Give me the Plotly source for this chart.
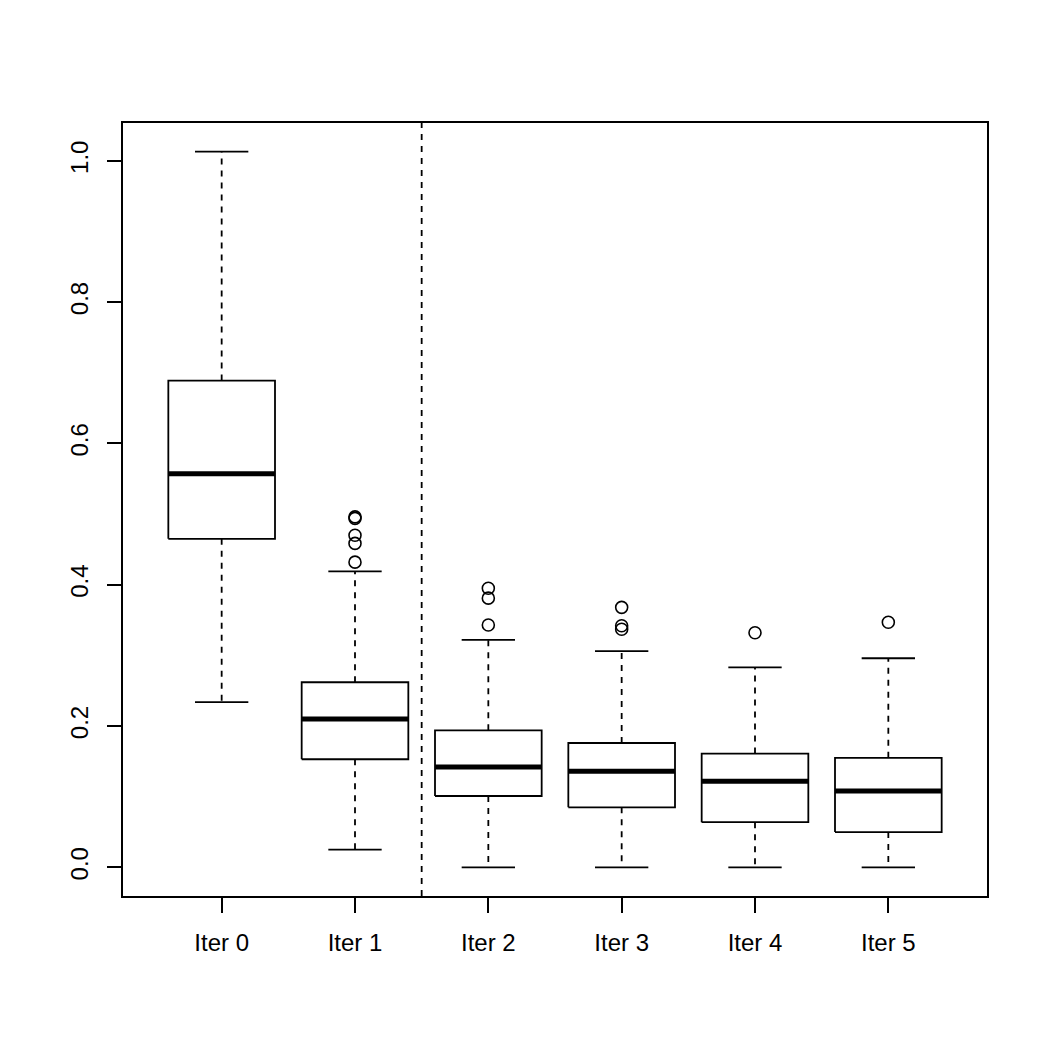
import plotly.graph_objects as go

categories = ["Iter 0", "Iter 1", "Iter 2", "Iter 3", "Iter 4", "Iter 5"]
lower_whisker = [0.234, 0.025, 0.000, 0.000, 0.000, 0.000]
q1 = [0.465, 0.153, 0.101, 0.085, 0.064, 0.050]
median = [0.557, 0.210, 0.142, 0.136, 0.122, 0.108]
q3 = [0.689, 0.262, 0.194, 0.176, 0.161, 0.155]
upper_whisker = [1.013, 0.419, 0.322, 0.306, 0.283, 0.296]
outliers = [
    [],
    [0.432, 0.4585, 0.470, 0.494, 0.496],
    [0.343, 0.381, 0.395],
    [0.337, 0.342, 0.368],
    [0.332],
    [0.347],
]
y_ticks = [0.0, 0.2, 0.4, 0.6, 0.8, 1.0]
separator_x = 2.5

BOX_HALF = 0.4
CAP_HALF = 0.2
LW = 1.8

positions = list(range(1, len(categories) + 1))

box_x, box_y = [], []
wh_x, wh_y = [], []
cap_x, cap_y = [], []
med_x, med_y = [], []
out_x, out_y = [], []
for i, p in enumerate(positions):
    box_x += [p - BOX_HALF, p + BOX_HALF, p + BOX_HALF, p - BOX_HALF, p - BOX_HALF, None]
    box_y += [q1[i], q1[i], q3[i], q3[i], q1[i], None]
    wh_x += [p, p, None, p, p, None]
    wh_y += [q3[i], upper_whisker[i], None, q1[i], lower_whisker[i], None]
    cap_x += [p - CAP_HALF, p + CAP_HALF, None, p - CAP_HALF, p + CAP_HALF, None]
    cap_y += [upper_whisker[i], upper_whisker[i], None, lower_whisker[i], lower_whisker[i], None]
    med_x += [p - BOX_HALF, p + BOX_HALF, None]
    med_y += [median[i], median[i], None]
    for v in outliers[i]:
        out_x.append(p)
        out_y.append(v)

fig = go.Figure()
fig.add_trace(go.Scatter(x=wh_x, y=wh_y, mode="lines",
                         line=dict(color="black", width=LW, dash="6px,6px"),
                         hoverinfo="skip"))
fig.add_trace(go.Scatter(x=cap_x, y=cap_y, mode="lines",
                         line=dict(color="black", width=LW), hoverinfo="skip"))
fig.add_trace(go.Scatter(x=box_x, y=box_y, mode="lines", fill="toself",
                         fillcolor="white",
                         line=dict(color="black", width=LW), hoverinfo="skip"))
fig.add_trace(go.Scatter(x=med_x, y=med_y, mode="lines",
                         line=dict(color="black", width=5), hoverinfo="skip"))
fig.add_trace(go.Scatter(x=out_x, y=out_y, mode="markers",
                         marker=dict(symbol="circle-open", size=12,
                                     color="black", line=dict(width=1.6)),
                         hoverinfo="skip"))

fig.add_shape(type="line", x0=separator_x, x1=separator_x, y0=0, y1=1,
              xref="x", yref="paper",
              line=dict(color="black", width=LW, dash="6px,6px"))

ymin_d = min(lower_whisker)
ymax_d = max(upper_whisker + [v for o in outliers for v in o])
pad = 0.04 * (ymax_d - ymin_d)

fig.update_layout(
    width=1050, height=1050,
    margin=dict(l=123, r=63, t=123, b=154),
    paper_bgcolor="white", plot_bgcolor="white",
    showlegend=False,
    font=dict(family="Liberation Sans, Arial, sans-serif", size=24, color="black"),
    xaxis=dict(
        range=[0.5 - 0.24, len(categories) + 0.5 + 0.24],
        tickvals=positions, ticktext=categories,
        ticks="outside", ticklen=15, tickwidth=LW, tickcolor="black",
        showline=True, linecolor="black", linewidth=LW, mirror=True,
        showgrid=False, zeroline=False, ticklabelstandoff=9,
    ),
    yaxis=dict(
        range=[ymin_d - pad, ymax_d + pad],
        tickvals=y_ticks, ticktext=[f"{v:.1f}" for v in y_ticks],
        tickangle=-90,
        ticks="outside", ticklen=14, tickwidth=LW, tickcolor="black",
        showline=True, linecolor="black", linewidth=LW, mirror=True,
        showgrid=False, zeroline=False, ticklabelstandoff=10,
    ),
)

fig.write_html("out.html")
